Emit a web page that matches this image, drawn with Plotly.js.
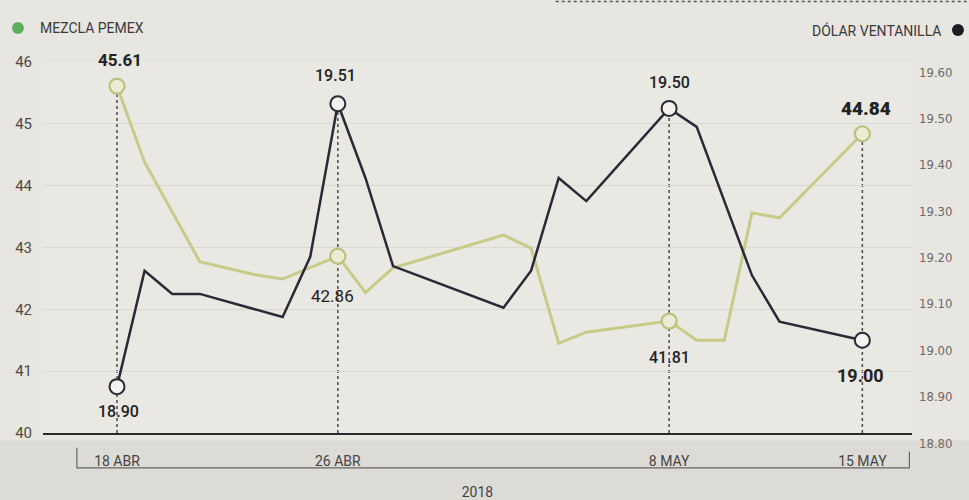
<!DOCTYPE html>
<html>
<head>
<meta charset="utf-8">
<script src="https://cdn.plot.ly/plotly-3.0.1.min.js"></script>
<style>html,body{margin:0;padding:0;background:#e7e6e1;}#chart{width:969px;height:500px;}</style>
</head>
<body>
<div id="chart"></div>
<script>
// ---- data ----
const greenName = 'MEZCLA PEMEX';
const darkName = 'DÓLAR VENTANILLA';
const greenDates = ['2018-04-18','2018-04-19','2018-04-21','2018-04-23','2018-04-24','2018-04-26','2018-04-27','2018-04-28','2018-05-02','2018-05-03','2018-05-04','2018-05-05','2018-05-08','2018-05-09','2018-05-10','2018-05-11','2018-05-12','2018-05-15'];
const greenVals = [45.61,44.38,42.77,42.56,42.49,42.86,42.27,42.67,43.20,42.99,41.45,41.63,41.81,41.50,41.50,43.56,43.48,44.84];
const darkDates = ['2018-04-18','2018-04-19','2018-04-20','2018-04-21','2018-04-24','2018-04-25','2018-04-26','2018-04-27','2018-04-28','2018-05-02','2018-05-03','2018-05-04','2018-05-05','2018-05-08','2018-05-09','2018-05-11','2018-05-12','2018-05-15'];
const darkVals = [18.90,19.15,19.10,19.10,19.05,19.18,19.51,19.35,19.16,19.07,19.15,19.35,19.30,19.50,19.46,19.14,19.04,19.00];
const highlightDates = ['2018-04-18','2018-04-26','2018-05-08','2018-05-15'];
const tickLabels = ['18 ABR','26 ABR','8 MAY','15 MAY'];
const leftTicks = [40,41,42,43,44,45,46];
const rightTicks = [18.80,18.90,19.00,19.10,19.20,19.30,19.40,19.50,19.60];
const yearLabel = '2018';

// ---- derived ----
const leftRange = [40, 46];
const rightRange = [18.8, 19.6];
const gHL = highlightDates.map(d => greenVals[greenDates.indexOf(d)]);
const dHL = highlightDates.map(d => darkVals[darkDates.indexOf(d)]);
const toLeft = v => leftRange[0] + (v - rightRange[0]) / (rightRange[1] - rightRange[0]) * (leftRange[1] - leftRange[0]);

const GREEN = '#c6cc88';
const DARK = '#2a2a36';
const FONT = 'Roboto, "Liberation Sans", sans-serif';

const traces = [
  {x: greenDates, y: greenVals, type: 'scatter', mode: 'lines', yaxis: 'y',
   line: {color: GREEN, width: 3}, hoverinfo: 'skip', showlegend: false},
  {x: darkDates, y: darkVals, type: 'scatter', mode: 'lines', yaxis: 'y2',
   line: {color: DARK, width: 2.5}, hoverinfo: 'skip', showlegend: false},
  {x: highlightDates, y: gHL, type: 'scatter', mode: 'markers', yaxis: 'y',
   marker: {size: 15, color: '#ecebd6', line: {color: '#b9c27a', width: 2.2}}, hoverinfo: 'skip', showlegend: false},
  {x: highlightDates, y: dHL, type: 'scatter', mode: 'markers', yaxis: 'y2',
   marker: {size: 15, color: '#f3f2ee', line: {color: DARK, width: 2}}, hoverinfo: 'skip', showlegend: false}
];

const shapes = [];
// bottom band
shapes.push({type: 'rect', xref: 'paper', yref: 'paper', x0: -0.06, x1: 1.08, y0: -0.02, y1: -0.2,
  fillcolor: '#dcdbd6', line: {width: 0}, layer: 'below'});
// dashed drop lines
highlightDates.forEach((d, i) => {
  const top = Math.max(gHL[i], toLeft(dHL[i]));
  shapes.push({type: 'line', xref: 'x', yref: 'y', x0: d, x1: d, y0: leftRange[0], y1: top,
    line: {color: '#4a4a4a', width: 1.5, dash: 'dot'}, layer: 'below'});
});
// bracket under x labels
shapes.push({type: 'path', xref: 'paper', yref: 'paper',
  path: 'M 0.039 -0.040 L 0.039 -0.094 L 0.997 -0.094 L 0.997 -0.050',
  line: {color: '#666', width: 1.2}});
// legend dots
shapes.push({type: 'circle', xref: 'paper', yref: 'paper', xsizemode: 'pixel', ysizemode: 'pixel',
  xanchor: -0.0288, yanchor: 1.0916, x0: -6, x1: 6, y0: -6, y1: 6, fillcolor: '#5fae5f', line: {width: 0}});
shapes.push({type: 'circle', xref: 'paper', yref: 'paper', xsizemode: 'pixel', ysizemode: 'pixel',
  xanchor: 1.0529, yanchor: 1.086, x0: -6, x1: 6, y0: -6, y1: 6, fillcolor: '#1e1e22', line: {width: 0}});
// top dotted border
shapes.push({type: 'line', xref: 'paper', yref: 'paper', x0: 0.59, x1: 1.07, y0: 1.163, y1: 1.163,
  line: {color: '#555', width: 1.5, dash: 'dot'}});

const annotations = [];
annotations.push({xref: 'paper', yref: 'paper', x: -0.006, y: 1.0916, xanchor: 'left', yanchor: 'middle',
  text: greenName, showarrow: false, font: {family: FONT, size: 14, color: '#3a3a3a'}});
annotations.push({xref: 'paper', yref: 'paper', x: 1.0357, y: 1.086, xanchor: 'right', yanchor: 'middle',
  text: darkName, showarrow: false, font: {family: FONT, size: 14, color: '#3a3a3a'}});

// value labels
const gStyle = [
  {ys: 26, xs: 3, size: 17, weight: 700},
  {ys: -40, xs: -5, size: 17, weight: 400},
  {ys: -36, xs: 0, size: 16, weight: 500},
  {ys: 25, xs: 4, size: 19, weight: 900}
];
const dStyle = [
  {ys: -25, xs: 1, size: 16, weight: 500},
  {ys: 28, xs: -2, size: 16, weight: 500},
  {ys: 26, xs: 0, size: 16, weight: 500},
  {ys: -35, xs: -2, size: 18, weight: 700}
];
highlightDates.forEach((d, i) => {
  annotations.push({xref: 'x', yref: 'y', x: d, y: gHL[i], text: gHL[i].toFixed(2), showarrow: false,
    yshift: gStyle[i].ys, xshift: gStyle[i].xs, yanchor: 'middle',
    font: {family: FONT, size: gStyle[i].size, weight: gStyle[i].weight, color: '#222'}});
  annotations.push({xref: 'x', yref: 'y2', x: d, y: dHL[i], text: dHL[i].toFixed(2), showarrow: false,
    yshift: dStyle[i].ys, xshift: dStyle[i].xs, yanchor: 'middle',
    font: {family: FONT, size: dStyle[i].size, weight: dStyle[i].weight, color: '#222'}});
});

const layout = {
  width: 969, height: 500,
  margin: {l: 43, r: 57, t: 62, b: 67},
  paper_bgcolor: '#e7e6e1', plot_bgcolor: '#e9e8e3',
  showlegend: false,
  xaxis: {
    type: 'date', range: ['2018-04-15 07:40', '2018-05-16 19:10'],
    tickvals: highlightDates, ticktext: tickLabels,
    showgrid: false, zeroline: false, showline: true, linecolor: '#2a2a2a', linewidth: 2,
    ticks: '', ticklabelstandoff: 14,
    tickfont: {family: FONT, size: 14, color: '#444'},
    title: {text: yearLabel, standoff: 20, font: {family: FONT, size: 14, color: '#444'}}
  },
  yaxis: {
    range: leftRange, tickvals: leftTicks, ticktext: leftTicks.map(String),
    showgrid: true, gridcolor: '#d9d8d1', gridwidth: 1, zeroline: false, showline: false,
    ticks: '', ticklabelstandoff: 10,
    tickfont: {family: FONT, size: 15, color: '#4a4a4a'}
  },
  yaxis2: {
    range: rightRange, overlaying: 'y', side: 'right',
    tickvals: rightTicks, ticktext: rightTicks.map(v => v.toFixed(2)),
    showgrid: false, zeroline: false, showline: false, ticks: '',
    ticklabelstandoff: 6, ticklabelshift: 10,
    tickfont: {family: '"Liberation Sans Narrow", "DejaVu Sans Condensed", sans-serif', size: 13, color: '#6a6a6a'}
  },
  shapes: shapes,
  annotations: annotations
};

Plotly.newPlot('chart', traces, layout, {displayModeBar: false, staticPlot: true});
</script>
</body>
</html>
